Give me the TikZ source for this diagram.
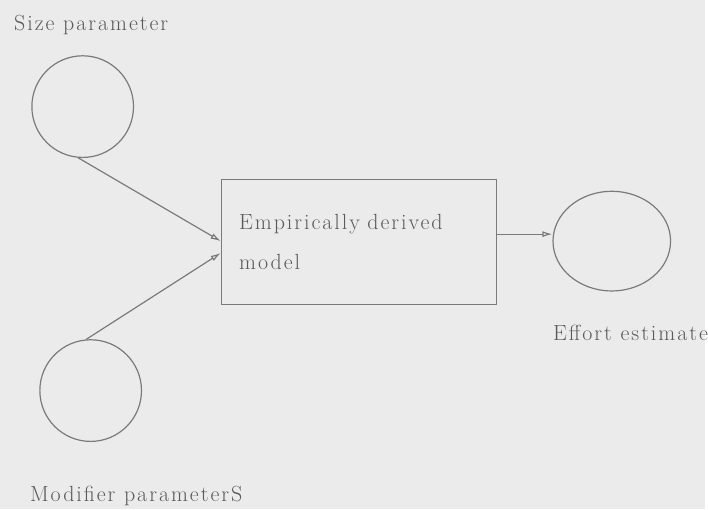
\documentclass[tikz,border=0pt]{standalone}
\usepackage{fontspec}
\setmainfont{Latin Modern Roman}[LetterSpace=9]
\usepackage{tikz}
\usetikzlibrary{shapes.geometric, arrows.meta, positioning}
\definecolor{paper}{HTML}{EBEBEB}
\definecolor{pen}{HTML}{7A7A7A}
\definecolor{ink}{HTML}{5A5A5A}

\begin{document}
\begin{tikzpicture}[
  x=1pt, y=-1pt,
  font=\fontsize{22}{40}\selectfont,
  blob/.style={circle, draw=pen, line width=1.2pt, minimum size=102pt, inner sep=0pt},
  oval/.style={ellipse, draw=pen, line width=1.2pt, minimum width=118pt, minimum height=100pt, inner sep=0pt},
  box/.style={rectangle, draw=pen, line width=1.1pt, minimum width=276pt, minimum height=126pt, text width=240pt, inner xsep=18pt, align=left, text=ink},
  lbl/.style={anchor=base west, inner sep=0pt, text=ink},
  arrow/.style={draw=pen, line width=1.2pt, -{Latex[open, length=10pt, width=6pt]}}
]
\fill[paper] (0,0) rectangle (708,511);
\node[blob] (size) at (83,107) {};
\node[blob] (modifier) at (91,392) {};
\node[box] (model) at (360,243) {Empirically derived\\model};
\node[oval] (effort) at (614,242) {};

\node[lbl] (sizelbl) at (14,31) {Size parameter};
\node[lbl] (modlbl) at (30,503) {Modifier parameterS};
\node[lbl] (efflbl) at (555,342) {Effort estimate};

\coordinate (out) at ([yshift=8pt]model.east);
\draw[arrow] (size.-95) -- ([yshift=1pt]model.west);
\draw[arrow] (modifier.95) -- ([yshift=-11pt]model.west);
\draw[arrow] (out) -- (out -| effort.west);
\end{tikzpicture}
\end{document}
